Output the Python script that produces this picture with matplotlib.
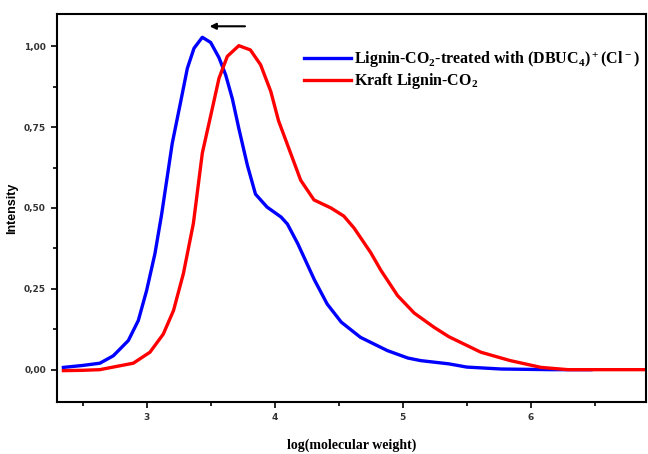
import matplotlib.pyplot as plt
from matplotlib.ticker import MultipleLocator, FuncFormatter

# blue: lignin-CO2 treated with (DBUC4)+(Cl-)
x_treated = [2.35, 2.5, 2.635, 2.74, 2.857, 2.935, 3.0, 3.065, 3.117, 3.20, 3.266, 3.318,
             3.37, 3.435, 3.5, 3.565, 3.617, 3.67, 3.72, 3.747, 3.787, 3.85, 3.94, 4.05,
             4.10, 4.18, 4.31, 4.41, 4.52, 4.67, 4.88, 5.04, 5.14, 5.36, 5.5, 5.77, 6.16, 6.47]
y_treated = [0.007, 0.013, 0.02, 0.043, 0.09, 0.152, 0.245, 0.359, 0.48, 0.70, 0.829, 0.932,
             0.994, 1.028, 1.012, 0.965, 0.912, 0.837, 0.746, 0.70, 0.632, 0.543, 0.503, 0.472,
             0.45, 0.39, 0.278, 0.203, 0.147, 0.10, 0.059, 0.036, 0.028, 0.018, 0.008, 0.002, 0.0, 0.0]

# red: kraft lignin-CO2
x_kraft = [2.35, 2.5, 2.635, 2.66, 2.896, 3.026, 3.13, 3.21, 3.287, 3.365, 3.435, 3.513,
           3.565, 3.63, 3.72, 3.81, 3.89, 3.97, 4.03, 4.125, 4.203, 4.307, 4.44, 4.54,
           4.62, 4.75, 4.83, 4.96, 5.09, 5.245, 5.36, 5.61, 5.84, 6.08, 6.29, 6.88]
y_kraft = [-0.003, -0.002, 0.0, 0.002, 0.02, 0.054, 0.11, 0.183, 0.297, 0.452, 0.67, 0.808,
           0.901, 0.969, 1.002, 0.989, 0.943, 0.86, 0.77, 0.669, 0.586, 0.525, 0.500, 0.475,
           0.438, 0.362, 0.307, 0.229, 0.175, 0.131, 0.102, 0.054, 0.028, 0.007, 0.0, 0.0]

plt.rcParams['mathtext.fontset'] = 'custom'
plt.rcParams['mathtext.rm'] = 'Liberation Serif:bold'

fig = plt.figure(figsize=(6.48, 4.54), dpi=100)
ax = fig.add_axes([57/648, 52/454, 589/648, 388/454])

ax.plot(x_treated, y_treated, color='#0000ff', lw=2.4, solid_joinstyle='round',
        label='Lignin-CO$\\mathregular{_2}$-treated with (DBUC$\\mathregular{_4}$)$\\mathregular{^+}$(Cl$\\mathregular{^-}$)')
ax.plot(x_kraft, y_kraft, color='#ff0000', lw=2.4, solid_joinstyle='round',
        label='Kraft Lignin-CO$\\mathregular{_2}$')

# shift arrow
ax.annotate('', xy=(3.47, 1.062), xytext=(3.79, 1.062),
            arrowprops=dict(arrowstyle='-|>', color='black', lw=1.5, mutation_scale=9))

ax.set_xlim(2.3, 6.9)
ax.set_ylim(-0.1, 1.1)
ax.xaxis.set_major_locator(MultipleLocator(1))
ax.xaxis.set_minor_locator(MultipleLocator(0.5))
ax.yaxis.set_major_locator(MultipleLocator(0.25))
ax.yaxis.set_minor_locator(MultipleLocator(0.125))
ax.yaxis.set_major_formatter(FuncFormatter(lambda v, p: f'{v:.2f}'.replace('.', ',')))
ax.xaxis.set_major_formatter(FuncFormatter(lambda v, p: f'{v:.0f}'))

for sp in ax.spines.values():
    sp.set_linewidth(1.5)
ax.tick_params(which='major', direction='out', length=4, width=1.2, labelsize=6.5, pad=4)
ax.tick_params(which='minor', direction='out', length=3, width=1.2)
for lab in ax.get_xticklabels() + ax.get_yticklabels():
    lab.set_fontweight('bold')
    lab.set_color('#333333')

ax.set_ylabel('Intensity', fontsize=9, fontweight='bold', fontfamily='Liberation Sans', labelpad=4)
ax.set_xlabel('log(molecular weight)', fontsize=10, fontweight='bold', fontfamily='Liberation Serif', labelpad=12)

ax.legend(loc='upper left', bbox_to_anchor=(0.42, 0.91), frameon=False, borderpad=0,
          borderaxespad=0, handlelength=2.9, handletextpad=0.2, labelspacing=0.1,
          prop={'family': 'Liberation Serif', 'weight': 'bold', 'size': 11.5})

fig.savefig('out.png', dpi=100)
